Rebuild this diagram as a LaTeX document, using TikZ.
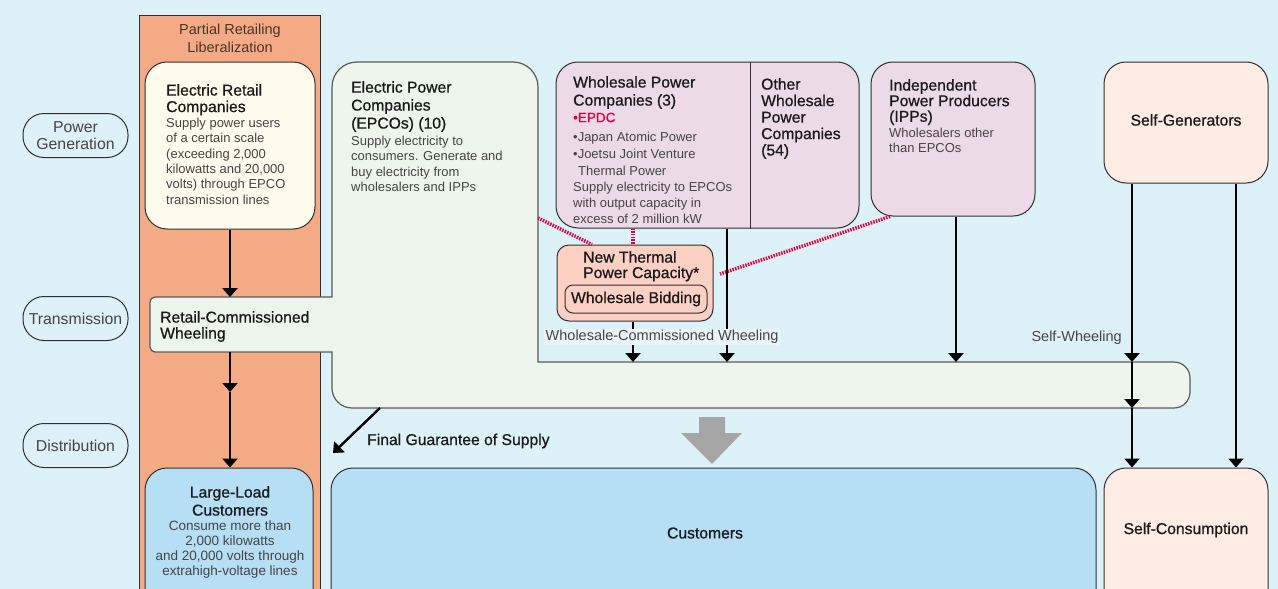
\documentclass[tikz,border=0pt]{standalone}
\usepackage{fontspec}
\setmainfont{Liberation Sans}
\newfontfamily\medfam[FakeBold=0.8]{Liberation Sans}
\usetikzlibrary{arrows.meta,calc}
\definecolor{bgc}{HTML}{DDF1F8}
\definecolor{bglight}{HTML}{E9F5FA}
\definecolor{orng}{HTML}{F5AA86}
\definecolor{cream}{HTML}{FFFCEE}
\definecolor{epco}{HTML}{EEF5EC}
\definecolor{lilac}{HTML}{ECDAE8}
\definecolor{peach}{HTML}{FFEDE5}
\definecolor{ntc}{HTML}{FCD1C4}
\definecolor{bluec}{HTML}{B6DEF5}
\definecolor{redc}{HTML}{E4003C}
\definecolor{grayarr}{HTML}{A6A6A6}
\definecolor{bdr}{HTML}{303030}
\definecolor{epbdr}{HTML}{5A5A5A}
\definecolor{titlec}{HTML}{1A1A1A}
\definecolor{bodyc}{HTML}{454545}
\definecolor{coltxt}{HTML}{4A3428}
\newcommand{\mytitle}{\medfam\fontsize{15.7}{17}\selectfont}
\newcommand{\mylabel}{\fontsize{14.5}{17}\selectfont}
\begin{document}
\begin{tikzpicture}[x=1pt,y=-1pt,
  box/.style={draw=bdr, line width=1pt, rounded corners=22pt, inner sep=0pt},
  pill/.style={draw=bdr, line width=1pt, rounded corners=21pt, fill=bgc, inner sep=0pt,
    minimum width=105pt, minimum height=44pt, align=center, text=bodyc,
    font=\fontsize{15.8}{17}\selectfont},
  txt/.style={inner sep=0pt, anchor=north west, align=left},
  ttl/.style={txt, text=titlec},
  bdy/.style={txt, text=bodyc},
  arr/.style={line width=2.4pt, draw=black, -{Triangle[width=15pt,length=9pt]}},
  reddot/.style={draw=redc, line width=3.5pt, dash pattern=on 1.5pt off 1.2pt}]
\useasboundingbox (0,0) rectangle (1278,589);
\clip (0,0) rectangle (1278,589);
\fill[bgc] (0,0) rectangle (1278,589);

% row labels
\node[pill] (pg) at (75.5,135.5) {Power\\Generation};
\node[pill] (tr) at (75.5,318.5) {Transmission};
\node[pill] (di) at (75.5,445.5) {Distribution};

% partial retailing column
\node[draw=bdr, line width=1pt, fill=orng, minimum width=181pt, minimum height=600pt,
  anchor=north, inner sep=0pt] (col) at (230,15) {};
\node[inner sep=0pt, anchor=north, align=center, text=coltxt,
  font=\fontsize{14.5}{18}\selectfont] (coltitle) at (230,24) {Partial Retailing\\Liberalization};

% EPCO composite shape (with retail-commissioned wheeling tab and transmission band)
\draw[fill=epco, draw=epbdr, line width=1.2pt]
  (332,297) -- (332,87) arc[start angle=180,end angle=270,radius=25]
  -- (513,62) arc[start angle=270,end angle=360,radius=25]
  -- (538,362) -- (1174,362) arc[start angle=270,end angle=360,radius=16]
  -- (1190,392) arc[start angle=0,end angle=90,radius=16]
  -- (352,408) arc[start angle=90,end angle=180,radius=20]
  -- (332,352) -- (155,352) arc[start angle=90,end angle=180,radius=5]
  -- (150,302) arc[start angle=180,end angle=270,radius=5] -- cycle;

% boxes
\node[box, fill=cream, minimum width=170pt, minimum height=167pt] (erc) at (230,145.5) {};
\node[box, fill=lilac, minimum width=303pt, minimum height=166pt] (wsl) at (707.5,145) {};
\node[box, fill=lilac, minimum width=164pt, minimum height=154pt] (ipp) at (953,139) {};
\node[box, fill=peach, minimum width=164pt, minimum height=121pt] (sgen) at (1186,122.5) {};
\node[box, fill=bluec, minimum width=168pt, minimum height=152pt] (llc) at (229,544) {};
\node[box, fill=bluec, minimum width=765pt, minimum height=152pt] (cust) at (713.5,544) {};
\node[box, fill=peach, minimum width=164pt, minimum height=152pt] (scons) at (1186,544) {};
\node[draw=bdr, line width=1pt, rounded corners=12pt, fill=ntc, inner sep=0pt,
  minimum width=156pt, minimum height=76pt] (nt) at (635,283) {};
\node[draw=bdr, line width=1pt, rounded corners=8pt, fill=ntc, inner sep=0pt,
  minimum width=142pt, minimum height=28pt, text=titlec, font=\mytitle] (wb) at (636,299) {Wholesale Bidding};

\coordinate (divx) at (750,0);
\draw[draw=bdr, line width=1pt] (wsl.north -| divx) -- (wsl.south -| divx);

% helper coordinates
\coordinate (exttop) at (0,362);
\coordinate (extbot) at (0,408);
\coordinate (rwtop) at (230,297);
\coordinate (rwbot) at (230,352);
\coordinate (mid1) at (230,392);
\coordinate (wx) at (727,0);
\coordinate (ix) at (956,0);
\coordinate (sgl) at (1132,0);
\coordinate (sgr) at (1236,0);
\coordinate (fg1) at (380,408);
\coordinate (fg2) at (333,453);
\coordinate (epR) at (538,218);
\coordinate (ntx) at (592,0);
\coordinate (dx) at (633,0);
\coordinate (ippx) at (890,0);
\coordinate (ntR) at (720,274);

% red dotted links
\draw[reddot] (epR) -- (nt.north -| ntx);
\draw[reddot] (wsl.south -| dx) -- (nt.north -| dx);
\draw[reddot] (ipp.south -| ippx) -- (ntR);

% connectors
\draw[arr] (erc.south) -- (rwtop);
\draw[arr] (rwbot) -- (mid1);
\draw[arr] (mid1) -- (mid1 |- llc.north);
\draw[arr] (nt.south -| dx) -- (dx |- exttop);
\draw[arr] (wsl.south -| wx) -- (wx |- exttop);
\draw[arr] (ipp.south -| ix) -- (ix |- exttop);
\draw[arr] (sgen.south -| sgl) -- (sgl |- exttop);
\draw[arr] (sgl |- exttop) -- (sgl |- extbot);
\draw[arr] (sgl |- extbot) -- (sgl |- scons.north);
\draw[arr] (sgen.south -| sgr) -- (sgr |- scons.north);
\draw[arr] (fg1) -- (fg2);

% big gray arrow
\fill[grayarr] (699,417) -- (725,417) -- (725,433) -- (742,433) -- (712,464)
  -- (681,433) -- (699,433) -- cycle;

% labels
\node[inner sep=1.5pt, fill=bglight, anchor=west, text=bodyc, font=\mylabel] (wcw) at (544,337) {Wholesale-Commissioned Wheeling};
\node[inner sep=0pt, anchor=east, text=bodyc, font=\mylabel] (sw) at (1122,338) {Self-Wheeling};
\node[inner sep=0pt, anchor=west, text=titlec, font=\mytitle] (fgs) at (367,441) {Final Guarantee of Supply};

% texts
\node[inner sep=0pt, text=titlec, font=\mytitle] (sgent) at (1186,120) {Self-Generators};

\node[ttl, font=\medfam\fontsize{15.7}{16.5}\selectfont] (erct) at (166,84) {Electric Retail\\Companies};
\node[bdy, font=\fontsize{13}{15.3}\selectfont] (ercb) at (166,118) {Supply power users\\of a certain scale\\(exceeding 2,000\\kilowatts and 20,000\\volts) through EPCO\\transmission lines};

\node[ttl, font=\medfam\fontsize{15.7}{18}\selectfont] (epcot) at (351,81) {Electric Power\\Companies\\(EPCOs) (10)};
\node[bdy, font=\fontsize{13}{15.3}\selectfont] (epcob) at (351,136) {Supply electricity to\\consumers. Generate and\\buy electricity from\\wholesalers and IPPs};

\node[ttl, font=\medfam\fontsize{15.7}{16}\selectfont] (rwt) at (160,311) {Retail-Commissioned\\Wheeling};

\node[ttl, font=\medfam\fontsize{15.7}{18}\selectfont] (wslt) at (573,76) {Wholesale Power\\Companies (3)};
\node[txt, text=redc, font=\medfam\fontsize{13.5}{15}\selectfont] (epdc) at (573,112.5) {•EPDC};
\node[bdy, font=\fontsize{13}{17}\selectfont] (wsll) at (573,132) {•Japan Atomic Power\\•Joetsu Joint Venture\\\hspace*{5pt}Thermal Power};
\node[bdy, font=\fontsize{13}{16}\selectfont] (wslb) at (573,182) {Supply electricity to EPCOs\\with output capacity in\\excess of 2 million kW};

\node[ttl, font=\medfam\fontsize{15.7}{16.5}\selectfont] (owt) at (761,78) {Other\\Wholesale\\Power\\Companies\\(54)};

\node[ttl, font=\medfam\fontsize{15.7}{15.6}\selectfont] (ippt) at (889,79) {Independent\\Power Producers\\(IPPs)};
\node[bdy, font=\fontsize{13}{15}\selectfont] (ippb) at (889,128) {Wholesalers other\\than EPCOs};

\node[ttl, font=\medfam\fontsize{15.7}{15.5}\selectfont] (ntt) at (583,251) {New Thermal\\Power Capacity*};

\node[ttl, anchor=north, align=center, font=\medfam\fontsize{15.7}{18}\selectfont] (llct) at (230,486) {Large-Load\\Customers};
\node[bdy, anchor=north, align=center, font=\fontsize{13.5}{15}\selectfont] (llcb) at (230,521) {Consume more than\\2,000 kilowatts\\and 20,000 volts through\\extrahigh-voltage lines};

\node[inner sep=0pt, text=titlec, font=\mytitle] (custt) at (705,533) {Customers};
\node[inner sep=0pt, text=titlec, font=\mytitle] (sconst) at (1186,530) {Self-Consumption};
\end{tikzpicture}
\end{document}
